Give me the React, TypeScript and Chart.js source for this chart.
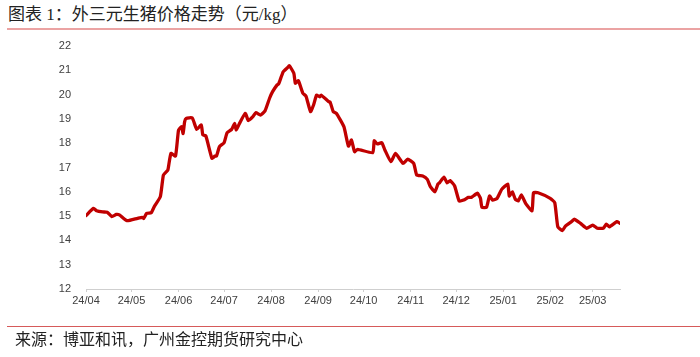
import React, { useEffect, useRef } from "react";
import { Chart, registerables } from "chart.js";

Chart.register(...registerables);

const TITLE = "图表 1：外三元生猪价格走势（元/kg）";
const SOURCE = "来源：博亚和讯，广州金控期货研究中心";

const startDate = "2024-04-01";
const endDate = "2025-03-19";

const tickDates = [
  "2024-04-01", "2024-05-01", "2024-06-01", "2024-07-01", "2024-08-01", "2024-09-01",
  "2024-10-01", "2024-11-01", "2024-12-01", "2025-01-01", "2025-02-01", "2025-03-01",
];
const tickLabels = [
  "24/04", "24/05", "24/06", "24/07", "24/08", "24/09",
  "24/10", "24/11", "24/12", "25/01", "25/02", "25/03",
];

const yTicks = [12, 13, 14, 15, 16, 17, 18, 19, 20, 21, 22];

const dates = [
  "2024-04-01", "2024-04-06", "2024-04-08", "2024-04-12", "2024-04-15", "2024-04-18", "2024-04-21", "2024-04-23", "2024-04-28",
  "2024-05-05", "2024-05-08", "2024-05-09", "2024-05-11", "2024-05-14", "2024-05-16", "2024-05-20", "2024-05-22", "2024-05-24", "2024-05-25", "2024-05-27", "2024-05-30",
  "2024-06-01", "2024-06-03", "2024-06-04", "2024-06-05", "2024-06-06", "2024-06-10", "2024-06-13", "2024-06-16", "2024-06-17", "2024-06-19", "2024-06-23", "2024-06-25", "2024-06-26", "2024-06-28",
  "2024-07-01", "2024-07-03", "2024-07-06", "2024-07-08", "2024-07-09", "2024-07-11", "2024-07-15", "2024-07-17", "2024-07-20", "2024-07-22", "2024-07-25", "2024-07-28", "2024-07-31",
  "2024-08-02", "2024-08-05", "2024-08-06", "2024-08-09", "2024-08-12", "2024-08-13", "2024-08-16", "2024-08-17", "2024-08-19", "2024-08-22", "2024-08-24", "2024-08-27", "2024-08-29", "2024-08-31",
  "2024-09-02", "2024-09-03", "2024-09-08", "2024-09-09", "2024-09-11", "2024-09-13", "2024-09-18", "2024-09-21", "2024-09-23", "2024-09-25", "2024-09-27",
  "2024-10-07", "2024-10-08", "2024-10-10", "2024-10-13", "2024-10-15", "2024-10-19", "2024-10-22", "2024-10-27", "2024-10-30",
  "2024-11-03", "2024-11-05", "2024-11-09", "2024-11-12", "2024-11-14", "2024-11-17", "2024-11-19", "2024-11-20", "2024-11-23", "2024-11-25", "2024-11-27", "2024-11-30",
  "2024-12-03", "2024-12-06", "2024-12-09", "2024-12-11", "2024-12-15", "2024-12-17", "2024-12-18", "2024-12-21", "2024-12-23", "2024-12-25", "2024-12-28", "2024-12-31",
  "2025-01-04", "2025-01-05", "2025-01-07", "2025-01-09", "2025-01-11", "2025-01-13", "2025-01-16", "2025-01-20", "2025-01-21", "2025-01-24",
  "2025-02-01", "2025-02-04", "2025-02-06", "2025-02-09", "2025-02-11", "2025-02-15", "2025-02-17", "2025-02-21", "2025-02-25",
  "2025-03-01", "2025-03-04", "2025-03-08", "2025-03-10", "2025-03-12", "2025-03-17", "2025-03-19",
];

const prices = [
  15.02, 15.32, 15.22, 15.17, 15.16, 14.98, 15.07, 15.05, 14.81,
  14.91, 14.95, 14.9, 15.11, 15.14, 15.39, 15.8, 16.69, 16.83, 16.9, 17.58, 17.47,
  18.54, 18.68, 18.4, 18.88, 19.02, 19.04, 18.57, 18.75, 18.34, 18.3, 17.38, 17.47, 17.47, 17.86,
  18.02, 18.43, 18.57, 18.82, 18.54, 18.79, 19.23, 18.93, 19.09, 19.26, 19.16, 19.33, 19.85,
  20.12, 20.4, 20.44, 20.94, 21.12, 21.19, 20.88, 20.47, 20.57, 20.05, 19.94, 19.3, 19.57, 19.98,
  19.91, 19.98, 19.71, 19.68, 19.3, 19.23, 18.68, 17.88, 18.13, 17.65, 17.75,
  17.61, 18.1, 17.97, 18.02, 17.72, 17.24, 17.58, 17.17, 17.34,
  17.17, 16.69, 16.65, 16.51, 16.21, 16.0, 16.32, 16.37, 16.6, 16.37, 16.46, 16.24,
  15.62, 15.66, 15.77, 15.77, 15.94, 15.73, 15.36, 15.36, 15.83, 15.66, 15.73, 16.1,
  16.32, 15.83, 16.0, 15.69, 15.63, 15.87, 15.5, 15.22, 15.96, 15.96,
  15.73, 15.55, 14.56, 14.4, 14.59, 14.77, 14.87, 14.7, 14.5,
  14.63, 14.5, 14.5, 14.67, 14.56, 14.77, 14.7,
];

const DAY = 86400000;
const dayIndex = (s: string) => Math.round((Date.parse(s + "T00:00:00Z") - Date.parse(startDate + "T00:00:00Z")) / DAY);

export default function App() {
  const ref = useRef<HTMLCanvasElement | null>(null);

  useEffect(() => {
    if (!ref.current) return;
    const points = dates.map((d, i) => ({ x: dayIndex(d), y: prices[i] }));
    const tickVals = tickDates.map(dayIndex);
    const chart = new Chart(ref.current, {
      type: "line",
      data: {
        datasets: [
          {
            data: points,
            borderColor: "#c00000",
            borderWidth: 3.3,
            pointRadius: 0,
            tension: 0.15,
            borderJoinStyle: "round",
            borderCapStyle: "round",
            fill: false,
          },
        ],
      },
      options: {
        animation: false,
        responsive: false,
        maintainAspectRatio: false,
        layout: { padding: { left: 40, top: 46, right: 80, bottom: 44 } },
        plugins: { legend: { display: false }, tooltip: { enabled: false }, title: { display: false } },
        scales: {
          x: {
            type: "linear",
            min: 0,
            max: dayIndex(endDate),
            afterBuildTicks: (scale: any) => {
              scale.ticks = tickVals.map((v) => ({ value: v }));
            },
            afterFit: (scale: any) => {
              scale.height = 24;
            },
            grid: { drawOnChartArea: false, drawTicks: true, tickLength: 3, color: "#cfcfcf" },
            border: { display: true, color: "#cfcfcf", width: 1 },
            ticks: {
              autoSkip: false,
              maxRotation: 0,
              padding: 2,
              color: "#404040",
              font: { family: "'Liberation Sans', Arial, sans-serif", size: 11 },
              callback: (v: any) => {
                const i = tickVals.indexOf(Number(v));
                return i >= 0 ? tickLabels[i] : "";
              },
            },
          },
          y: {
            min: yTicks[0],
            max: yTicks[yTicks.length - 1],
            afterBuildTicks: (scale: any) => {
              scale.ticks = yTicks.map((v) => ({ value: v }));
            },
            afterFit: (scale: any) => {
              scale.width = 46;
            },
            grid: { display: false, drawTicks: false },
            border: { display: false },
            ticks: {
              padding: 15,
              color: "#404040",
              font: { family: "'Liberation Sans', Arial, sans-serif", size: 11 },
            },
          },
        },
      },
    } as any);
    return () => chart.destroy();
  }, []);

  const serif = "'Liberation Serif', 'Noto Sans CJK SC', serif";

  return (
    <div style={{ position: "fixed", left: 0, top: 0, width: 700, height: 357, background: "#fff", overflow: "hidden" }}>
      <div
        style={{
          position: "absolute",
          left: 8,
          top: 4,
          fontFamily: serif,
          fontSize: 17,
          color: "#222",
          lineHeight: "22px",
          whiteSpace: "nowrap",
        }}
      >
        {TITLE}
      </div>
      <div style={{ position: "absolute", left: 7, top: 28, width: 693, height: 2, background: "#eba3a3" }} />
      <canvas ref={ref} width={700} height={357} style={{ position: "absolute", left: 0, top: 0, width: 700, height: 357 }} />
      <div style={{ position: "absolute", left: 7, top: 326, width: 693, height: 1, background: "#d65a5a" }} />
      <div
        style={{
          position: "absolute",
          left: 15,
          top: 329,
          fontFamily: serif,
          fontSize: 16,
          color: "#222",
          lineHeight: "22px",
          whiteSpace: "nowrap",
        }}
      >
        {SOURCE}
      </div>
    </div>
  );
}
